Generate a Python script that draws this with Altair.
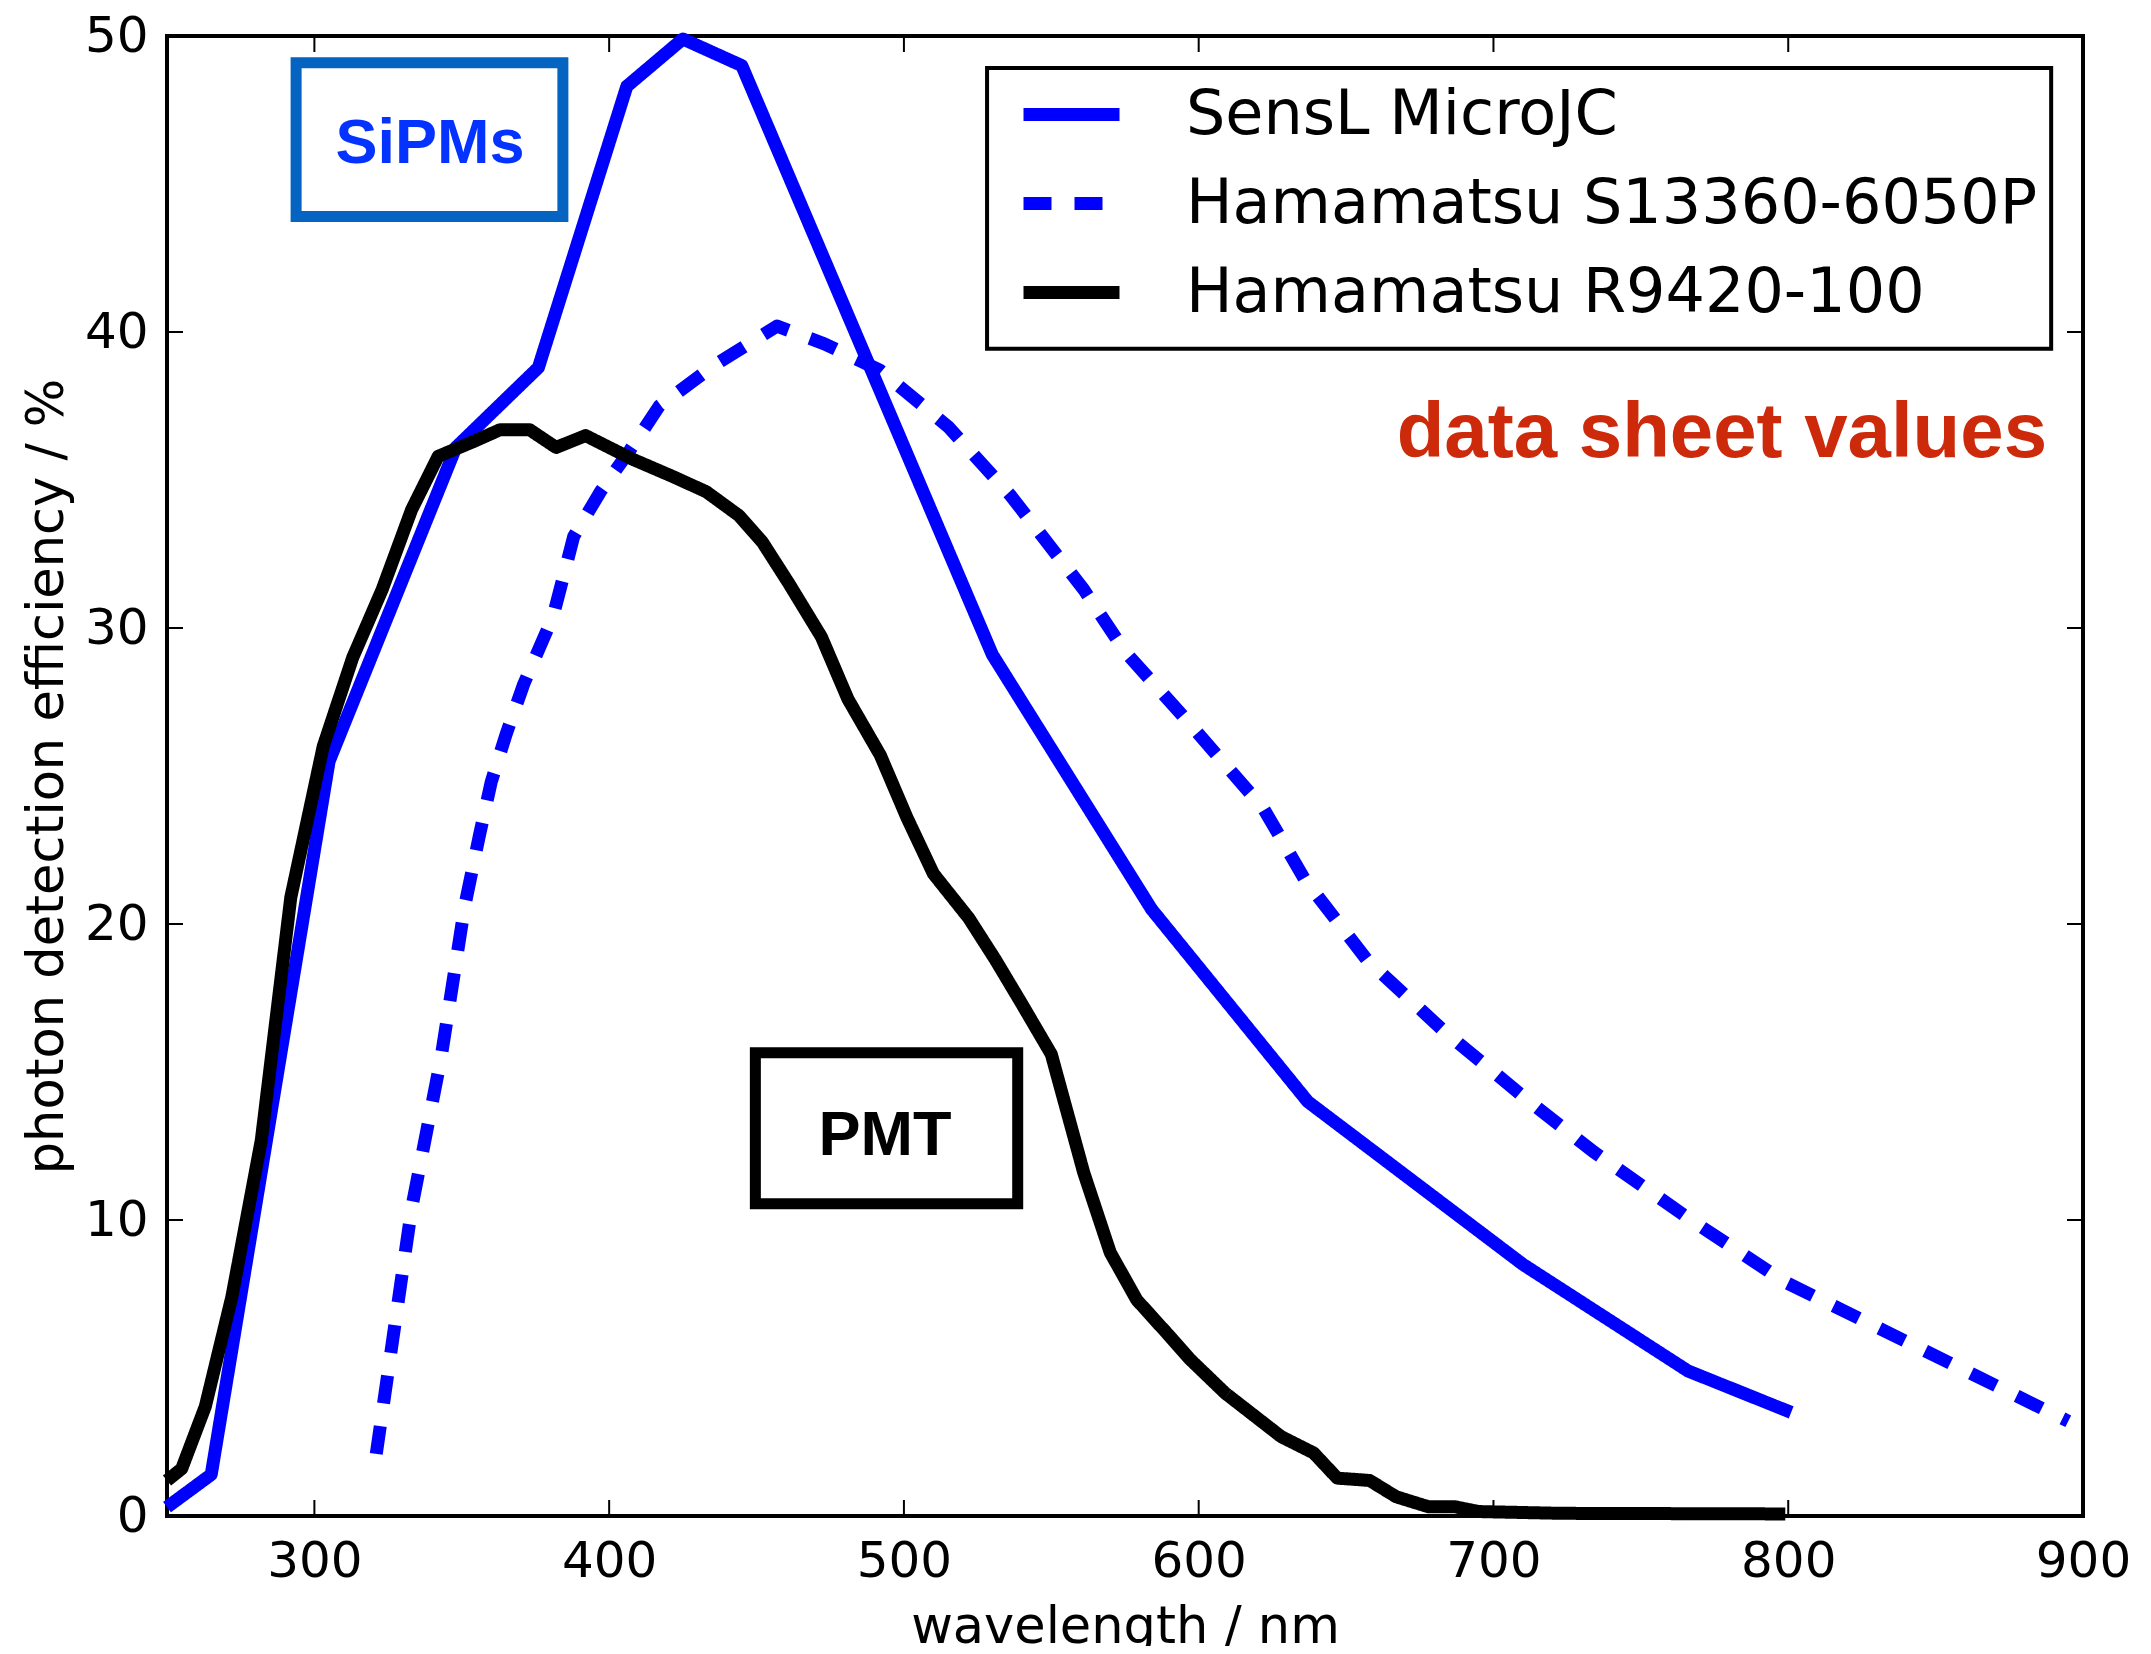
import altair as alt
import pandas as pd

# ---------------- data ----------------
series_names = ["SensL MicroJC", "Hamamatsu S13360-6050P", "Hamamatsu R9420-100"]
series_colors = ["#0000FF", "#0000FF", "#000000"]
series_dashes = [[1, 0], [28, 23], [1, 0]]

sensl_wl = [250, 265, 305, 348, 376, 406, 425, 445, 530, 584, 637, 710, 766, 801]
sensl_pde = [0.3, 1.4, 25.5, 36.1, 38.8, 48.3, 49.9, 49.0, 29.1, 20.5, 14.0, 8.5, 4.9, 3.5]

s13360_wl = [321, 333, 343, 351, 356, 360, 365, 371, 381, 388, 397, 407, 417, 436, 457,
             473, 492, 515, 536, 561, 575, 594, 622, 636, 657, 683, 711, 734, 767, 799, 846, 895]
s13360_pde = [2.1, 10.4, 15.5, 20.6, 23.0, 24.8, 26.4, 28.1, 30.4, 33.1, 34.6, 36.0, 37.5, 38.9, 40.2,
              39.6, 38.7, 36.8, 34.5, 31.3, 29.2, 27.1, 23.9, 21.5, 18.8, 16.4, 14.1, 12.3, 10.0, 7.9, 5.6, 3.2]

r9420_wl = [250, 255, 263, 272, 282, 292, 303, 313, 323, 333, 342, 354, 363, 373, 382, 392,
            408, 422, 433, 444, 452, 461, 472, 481, 492, 501, 510, 522, 531, 540, 550, 561,
            570, 579, 589, 597, 609, 628, 639, 647, 658, 667, 678, 687, 695, 723, 799]
r9420_pde = [1.2, 1.6, 3.7, 7.4, 12.7, 20.9, 26.0, 29.0, 31.3, 34.0, 35.8, 36.3, 36.7, 36.7, 36.1, 36.5,
             35.7, 35.1, 34.6, 33.8, 32.9, 31.5, 29.7, 27.6, 25.7, 23.6, 21.7, 20.2, 18.8, 17.3, 15.6, 11.6,
             8.9, 7.3, 6.2, 5.3, 4.15, 2.68, 2.13, 1.28, 1.2, 0.65, 0.31, 0.31, 0.15, 0.09, 0.07]

x_ticks = [300, 400, 500, 600, 700, 800, 900]
y_ticks = [0, 10, 20, 30, 40, 50]

# annotation boxes (data coordinates) and texts
box_labels = ["SiPMs", "PMT"]
box_x1 = [293.8, 449.6]
box_x2 = [384.3, 538.6]
box_y1 = [43.9, 10.55]
box_y2 = [49.1, 15.65]
box_text_x = [339.2, 493.6]
box_text_y = [45.7, 12.2]

# legend frame (data coordinates)
legend_frame_x = [528.2, 889.2]
legend_frame_y = [39.43, 48.92]

note_text = ["data sheet values"]
note_x = [887.8]
note_y = [35.78]

# ---------------- build tables ----------------
rows = []
for name, wl, pde in zip(series_names,
                         [sensl_wl, s13360_wl, r9420_wl],
                         [sensl_pde, s13360_pde, r9420_pde]):
    for i, (w, p) in enumerate(zip(wl, pde)):
        rows.append({"series": name, "wl": w, "pde": p, "idx": i})
df = pd.DataFrame(rows)

W, H = 1916, 1480
TL = 16
xscale = alt.Scale(domain=[250, 900], nice=False, zero=False)
yscale = alt.Scale(domain=[0, 50], nice=False, zero=False)
x_axis = alt.Axis(values=x_ticks, format="d", title="wavelength / nm", titlePadding=16, labelPadding=20)
y_axis = alt.Axis(values=y_ticks, format="d", title="photon detection efficiency / %",
                  titlePadding=11, labelPadding=19)


def X(f):
    return alt.X(f, scale=xscale, axis=x_axis)


def Y(f):
    return alt.Y(f, scale=yscale, axis=y_axis)


lines = alt.Chart(df).mark_line(strokeWidth=13, strokeJoin="round", strokeCap="butt").encode(
    x=X("wl:Q"),
    y=Y("pde:Q"),
    color=alt.Color("series:N", title=None, sort=series_names,
                    scale=alt.Scale(domain=series_names, range=series_colors)),
    strokeDash=alt.StrokeDash("series:N", title=None, sort=series_names,
                              scale=alt.Scale(domain=series_names, range=series_dashes)),
    detail="series:N",
    order="idx:Q",
)

xt = pd.DataFrame({"v": x_ticks})
yt = pd.DataFrame({"v": y_ticks})
rule_kw = dict(color="black", strokeWidth=2)
t_bottom = alt.Chart(xt).mark_rule(**rule_kw).encode(x=X("v:Q"), y=alt.value(H), y2=alt.value(H - TL))
t_top = alt.Chart(xt).mark_rule(**rule_kw).encode(x=X("v:Q"), y=alt.value(0), y2=alt.value(TL))
t_left = alt.Chart(yt).mark_rule(**rule_kw).encode(y=Y("v:Q"), x=alt.value(0), x2=alt.value(TL))
t_right = alt.Chart(yt).mark_rule(**rule_kw).encode(y=Y("v:Q"), x=alt.value(W), x2=alt.value(W - TL))

boxes = pd.DataFrame({"label": box_labels, "x1": box_x1, "x2": box_x2, "y1": box_y1, "y2": box_y2,
                      "tx": box_text_x, "ty": box_text_y})
sipm_box = alt.Chart(boxes.iloc[[0]]).mark_rect(fillOpacity=0, stroke="#0563C1", strokeWidth=11).encode(
    x=X("x1:Q"), x2="x2:Q", y=Y("y1:Q"), y2="y2:Q")
pmt_box = alt.Chart(boxes.iloc[[1]]).mark_rect(fillOpacity=0, stroke="#000000", strokeWidth=11).encode(
    x=X("x1:Q"), x2="x2:Q", y=Y("y1:Q"), y2="y2:Q")
sipm_text = alt.Chart(boxes.iloc[[0]]).mark_text(
    font="Liberation Sans", fontWeight="bold", fontSize=63, color="#0433FF",
    align="center", baseline="alphabetic").encode(x=X("tx:Q"), y=Y("ty:Q"), text="label:N")
pmt_text = alt.Chart(boxes.iloc[[1]]).mark_text(
    font="Liberation Sans", fontWeight="bold", fontSize=63, color="#000000",
    align="center", baseline="alphabetic").encode(x=X("tx:Q"), y=Y("ty:Q"), text="label:N")

frame_df = pd.DataFrame({"x1": [legend_frame_x[0]], "x2": [legend_frame_x[1]],
                         "y1": [legend_frame_y[0]], "y2": [legend_frame_y[1]]})
legend_frame = alt.Chart(frame_df).mark_rect(fill="white", stroke="black", strokeWidth=4).encode(
    x=X("x1:Q"), x2="x2:Q", y=Y("y1:Q"), y2="y2:Q")

notes = pd.DataFrame({"t": note_text, "x": note_x, "y": note_y})
note = alt.Chart(notes).mark_text(
    font="Liberation Sans", fontWeight="bold", fontSize=78, color="#CC2A0A",
    align="right", baseline="alphabetic").encode(x=X("x:Q"), y=Y("y:Q"), text="t:N")

chart = alt.layer(
    legend_frame, sipm_box, pmt_box, sipm_text, pmt_text, note, lines,
    t_bottom, t_top, t_left, t_right
).properties(
    width=W, height=H,
    autosize=alt.AutoSizeParams(type="none"),
    padding={"left": 159, "top": 28, "right": 52, "bottom": 130},
).configure_view(
    stroke="black", strokeWidth=4
).configure_axis(
    domain=False, ticks=False, grid=False,
    labelFont="DejaVu Sans", labelFontSize=50, labelColor="black",
    labelFlush=False, labelOverlap=False, labelBound=False,
    titleFont="DejaVu Sans", titleFontSize=51, titleFontWeight="normal", titleColor="black",
).configure_legend(
    orient="none", legendX=822, legendY=10,
    padding=14, rowPadding=3, symbolOffset=14,
    symbolType="stroke", symbolSize=9216, symbolStrokeWidth=13,
    labelFont="DejaVu Sans", labelFontSize=62, labelColor="black",
    labelOffset=60, labelLimit=2000,
)

chart.save("out.html", embed_options={"renderer": "svg", "actions": False})
